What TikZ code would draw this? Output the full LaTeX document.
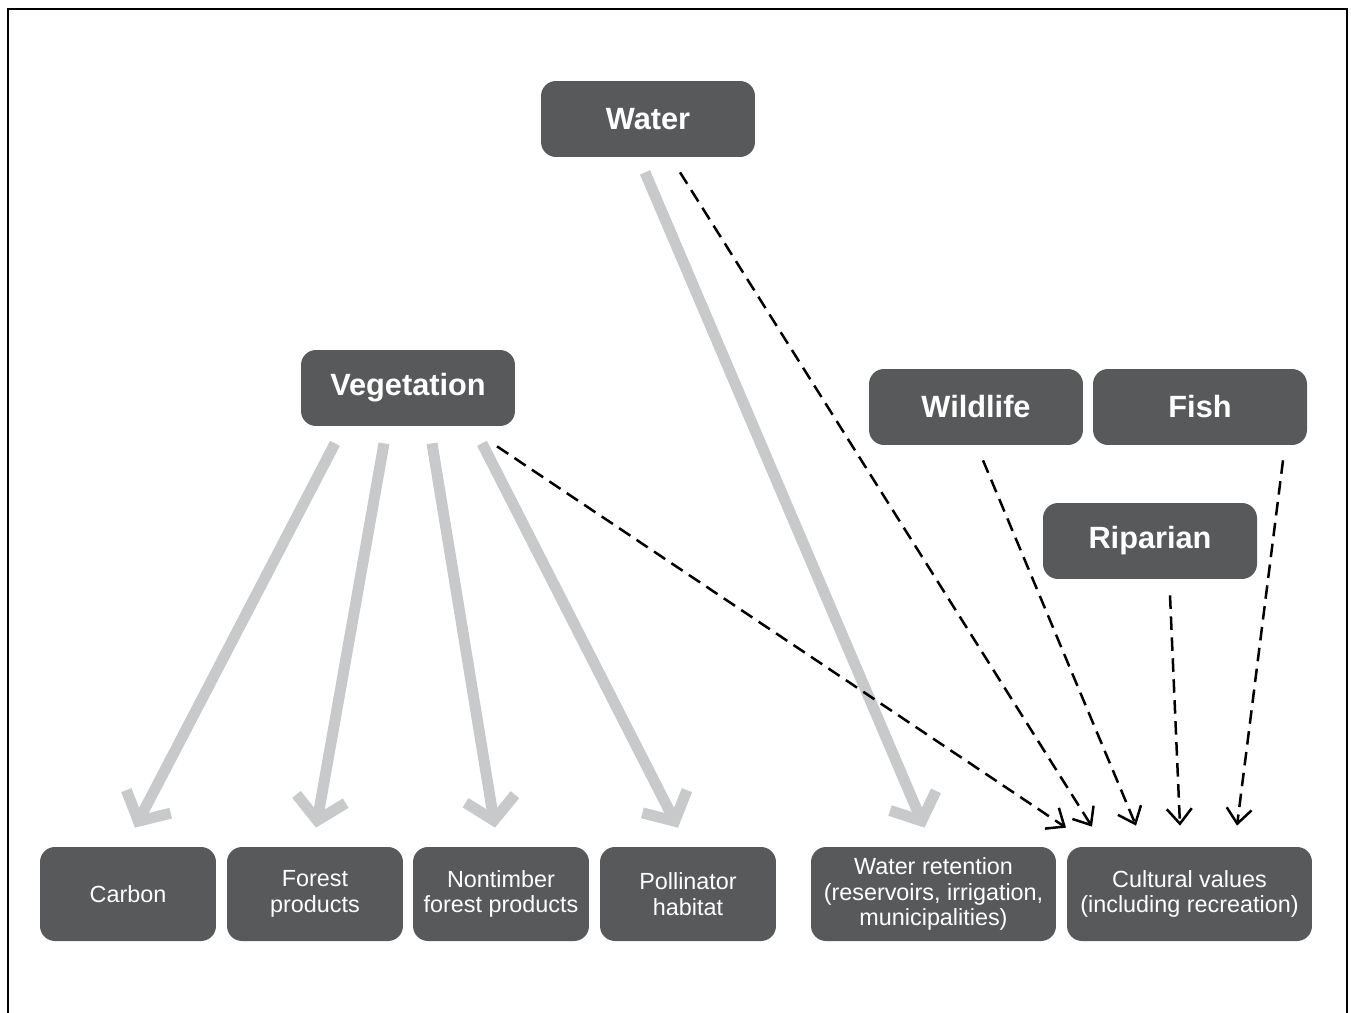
\documentclass[tikz,border=0pt]{standalone}
\usepackage{fontspec}
\setmainfont{Liberation Sans}
\usepackage{xcolor}
\usetikzlibrary{arrows.meta,calc}

\definecolor{boxgray}{HTML}{58595B}
\definecolor{flowgray}{HTML}{C8C9CA}

\tikzset{
  topic/.style={draw=none, fill=boxgray, rounded corners=0.3cm, text=white,
    minimum width=4.28cm, minimum height=1.52cm,
    font=\fontsize{17.5}{20}\selectfont\bfseries},
  service/.style={draw=none, fill=boxgray, rounded corners=0.3cm, text=white,
    minimum width=3.52cm, minimum height=1.88cm, align=center,
    font=\fontsize{13.3}{14.7}\selectfont},
  wideservice/.style={service, minimum width=4.9cm},
  flow/.style={draw=flowgray, line width=0.22cm,
    -{Straight Barb[length=0.44cm, width=1cm]}},
  link/.style={draw=black, line width=0.05cm, dash pattern=on 0.27cm off 0.15cm,
    -{Straight Barb[length=0.3cm, width=0.5cm, line width=0.05cm]}}
}

\begin{document}
\begin{tikzpicture}[x=0.02cm, y=-0.02cm]
\useasboundingbox (0,0) rectangle (1351,1013);
% frame, open at the bottom
\draw[line width=0.04cm] (8,1013)--(8,9)--(1347,9)--(1347,1013);

% sources
\node[topic] (water) at (648,119) {Water};
\node[topic] (veg) at (408,388) {Vegetation};
\node[topic] (wildlife) at (976,407) {Wildlife};
\node[topic] (fish) at (1200,407) {Fish};
\node[topic] (riparian) at (1150,541) {Riparian};

% services
\node[service] (carbon) at (128,894) {Carbon};
\node[service] (forest) at (315,894) {Forest\\products};
\node[service] (ntfp) at (501,894) {Nontimber\\forest products};
\node[service] (pollin) at (688,894) {Pollinator\\habitat};
\node[wideservice] (retention) at (933.5,894) {Water retention\\(reservoirs, irrigation,\\municipalities)};
\node[wideservice] (cultural) at (1189.5,894) {Cultural values\\(including recreation)};

% direct flows
\draw[flow] ($(veg.south)+(-73,17)$) -- ($(carbon.north)+(7,-19)$);
\draw[flow] ($(veg.south)+(-24,17)$) -- ($(forest.north)+(1,-19)$);
\draw[flow] ($(veg.south)+(24,17)$) -- ($(ntfp.north)+(-6,-19)$);
\draw[flow] ($(veg.south)+(74,17)$) -- ($(pollin.north)+(-10,-19)$);
\draw[flow] ($(water.south)+(-3,15)$) -- ($(retention.north)+(-9,-19)$);

% links to cultural values
\draw[link] ($(veg.south)+(89,20)$) -- ($(cultural.north)+(-123.5,-19)$);
\draw[link] ($(water.south)+(32,15)$) -- ($(cultural.north)+(-97.5,-20)$);
\draw[link] ($(wildlife.south)+(7,15)$) -- ($(cultural.north)+(-53.5,-21)$);
\draw[link] ($(riparian.south)+(20,16)$) -- ($(cultural.north)+(-9.5,-21)$);
\draw[link] ($(fish.south)+(83,15)$) -- ($(cultural.north)+(47.5,-21)$);
\end{tikzpicture}
\end{document}
